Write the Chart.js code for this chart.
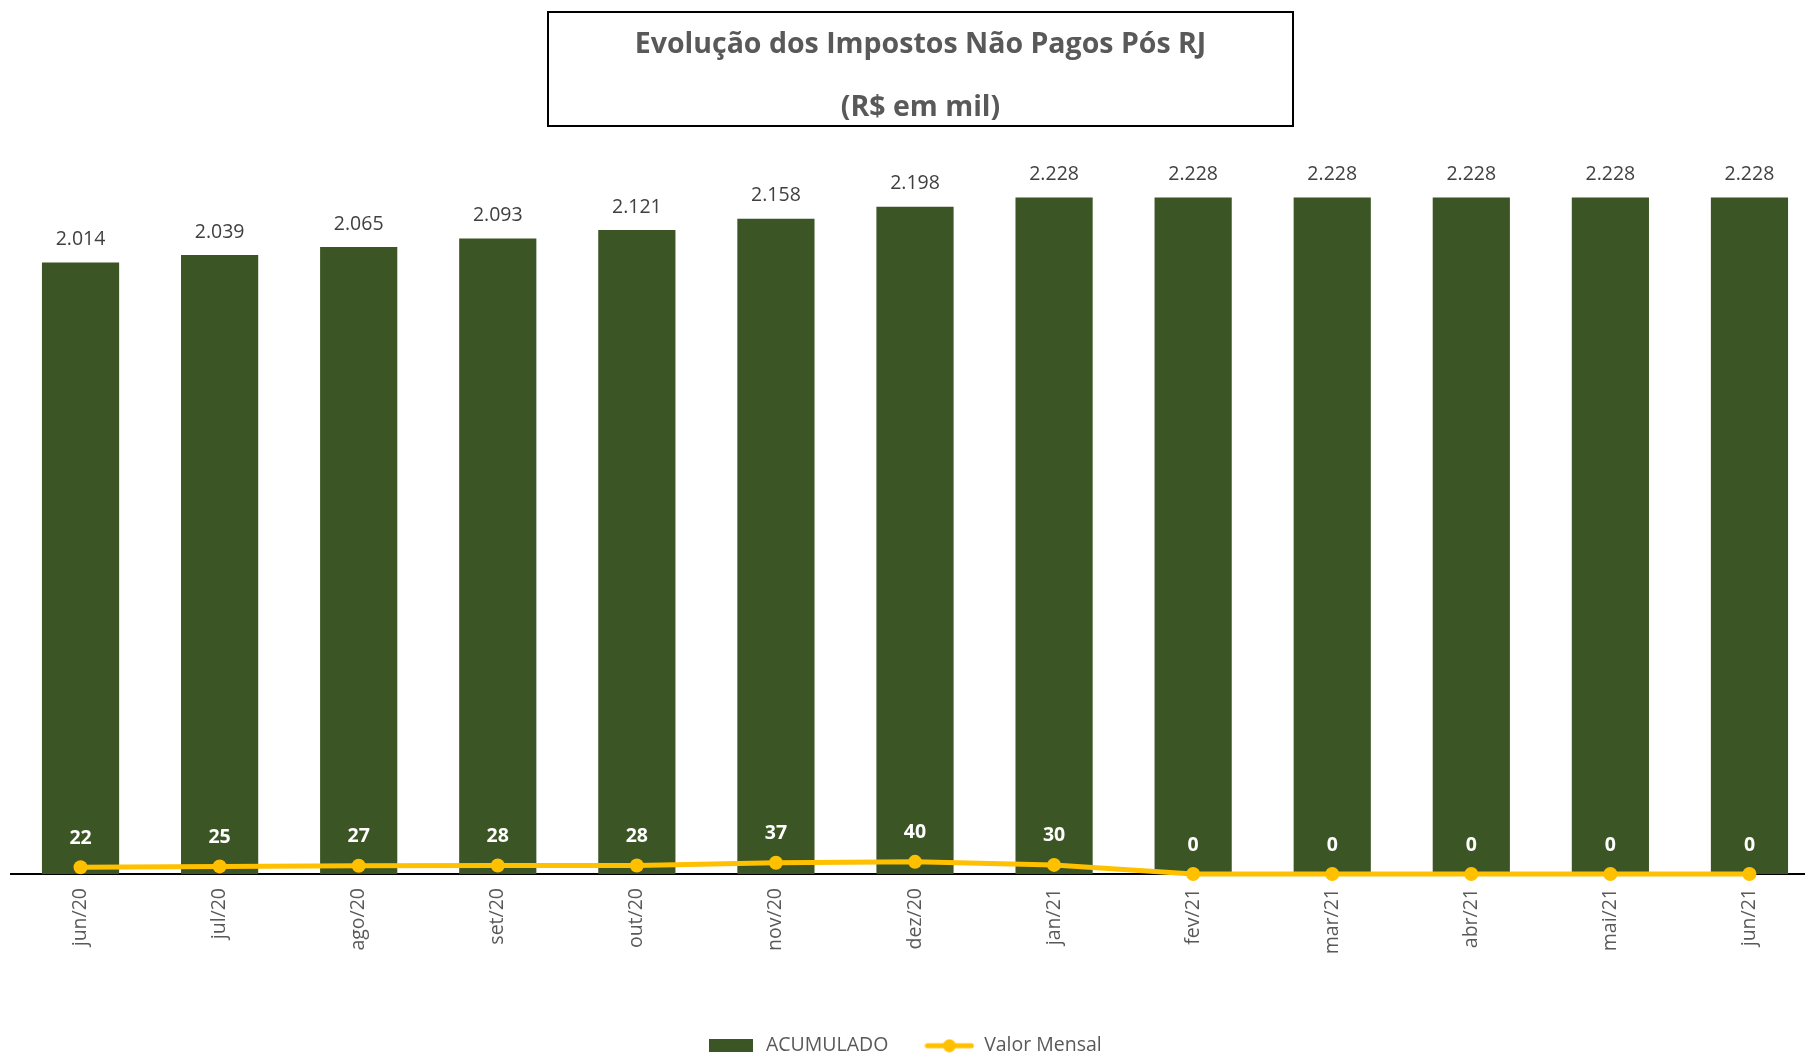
<!DOCTYPE html>
<html>
<head>
<meta charset="utf-8">
<script src="https://cdn.jsdelivr.net/npm/chart.js@4.4.1/dist/chart.umd.min.js"></script>
<style>
  html, body { margin: 0; padding: 0; background: #fff; overflow: hidden; }
  #wrap { position: relative; width: 1805px; height: 1056px; overflow: hidden; }
  #chart { position: absolute; left: 0; top: 0; }
  #titleBox {
    position: absolute; left: 547px; top: 11px; width: 743px; height: 112px;
    border: 2px solid #000; font-family: "Open Sans", sans-serif; font-weight: bold;
    color: #595959; font-size: 28.5px; text-align: center;
  }
  #titleBox div { position: absolute; left: 0; right: 0; line-height: 34px; }
</style>
</head>
<body>
<div id="wrap">
  <canvas id="chart" width="1826" height="1056"></canvas>
  <div id="titleBox">
    <div style="top:12px">Evolução dos Impostos Não Pagos Pós RJ</div>
    <div style="top:75px">(R$ em mil)</div>
  </div>
</div>
<script>
const categories = ['jun/20', 'jul/20', 'ago/20', 'set/20', 'out/20', 'nov/20', 'dez/20',
                    'jan/21', 'fev/21', 'mar/21', 'abr/21', 'mai/21', 'jun/21'];
const acumulado = [2014, 2039, 2065, 2093, 2121, 2158, 2198, 2228, 2228, 2228, 2228, 2228, 2228];
const valorMensal = [22, 25, 27, 28, 28, 37, 40, 30, 0, 0, 0, 0, 0];

const GREEN = '#3b5524';
const YELLOW = '#ffc000';

function fmt(v) {
    return String(v).replace(/\B(?=(\d{3})+(?!\d))/g, '.');
}

// legend icons
function rectIcon() {
    let c = document.createElement('canvas');
    c.width = 44; c.height = 13;
    let g = c.getContext('2d');
    g.fillStyle = GREEN;
    g.fillRect(0, 0, 44, 13);
    return c;
}
function lineIcon() {
    let c = document.createElement('canvas');
    c.width = 50; c.height = 14;
    let g = c.getContext('2d');
    g.strokeStyle = YELLOW;
    g.lineWidth = 5;
    g.lineCap = 'round';
    g.beginPath(); g.moveTo(3, 7); g.lineTo(47, 7); g.stroke();
    g.fillStyle = YELLOW;
    g.beginPath(); g.arc(25, 7, 6.5, 0, Math.PI * 2); g.fill();
    return c;
}

const valueLabels = {
    id: 'valueLabels',
    afterLayout(chart) {
        // legend sits a bit left of the plot centre in the original
        chart.legend.left -= 14;
        chart.legend.right -= 14;
    },
    afterDatasetsDraw(chart) {
        let ctx = chart.ctx;
        ctx.save();
        ctx.textAlign = 'center';
        ctx.textBaseline = 'middle';
        ctx.font = '19.5px "Open Sans"';
        ctx.fillStyle = '#404040';
        chart.getDatasetMeta(0).data.forEach((bar, i) => {
            ctx.fillText(fmt(acumulado[i]), bar.x, bar.y - 23);
        });
        ctx.font = 'bold 19.5px "Open Sans"';
        ctx.fillStyle = '#ffffff';
        chart.getDatasetMeta(1).data.forEach((pt, i) => {
            ctx.fillText(fmt(valorMensal[i]), pt.x, pt.y - 29);
        });
        ctx.restore();
    }
};

new Chart(document.getElementById('chart'), {
    data: {
        labels: categories,
        datasets: [
            {
                type: 'bar',
                label: 'ACUMULADO',
                data: acumulado,
                backgroundColor: GREEN,
                barPercentage: 0.555,
                categoryPercentage: 1,
                order: 1
            },
            {
                type: 'line',
                label: 'Valor Mensal',
                data: valorMensal,
                borderColor: YELLOW,
                backgroundColor: YELLOW,
                borderWidth: 5,
                pointRadius: 7,
                pointBackgroundColor: YELLOW,
                pointBorderWidth: 0,
                tension: 0,
                clip: false,
                order: 0
            }
        ]
    },
    options: {
        responsive: false,
        animation: false,
        layout: { padding: { top: 115, left: 11, right: 1, bottom: 0 } },
        scales: {
            x: {
                offset: true,
                grid: { display: false, drawTicks: false },
                border: { display: true, color: '#000', width: 2 },
                ticks: {
                    minRotation: 90, maxRotation: 90, padding: 14,
                    color: '#595959',
                    font: { family: 'Open Sans', size: 19.5 }
                },
                afterFit(scale) { scale.height = 126; }
            },
            y: {
                display: false,
                min: 0,
                max: 2500
            }
        },
        plugins: {
            tooltip: { enabled: false },
            legend: {
                position: 'bottom',
                maxHeight: 56,
                labels: {
                    usePointStyle: true,
                    pointStyleWidth: 50,
                    padding: 36,
                    color: '#595959',
                    font: { family: 'Open Sans', size: 19.5 },
                    generateLabels() {
                        return [
                            { text: 'ACUMULADO', pointStyle: rectIcon(), fillStyle: GREEN, strokeStyle: GREEN,
                              lineWidth: 0, hidden: false, datasetIndex: 0, fontColor: '#595959' },
                            { text: 'Valor Mensal', pointStyle: lineIcon(), fillStyle: YELLOW, strokeStyle: YELLOW,
                              lineWidth: 0, hidden: false, datasetIndex: 1, fontColor: '#595959' }
                        ];
                    }
                }
            }
        }
    },
    plugins: [valueLabels]
});
</script>
</body>
</html>
